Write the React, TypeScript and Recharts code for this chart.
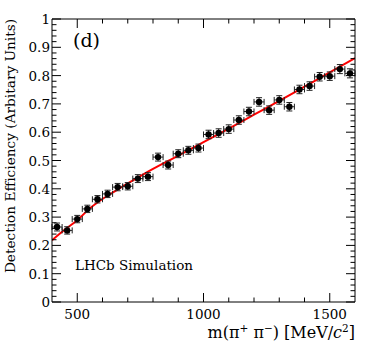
import React from 'react';
import { ComposedChart, Scatter, Line, XAxis, YAxis, ErrorBar } from 'recharts';

const masses = [420, 460, 500, 540, 580, 620, 660, 700, 740, 780, 820, 860, 900, 940, 980, 1020, 1060, 1100, 1140, 1180, 1220, 1260, 1300, 1340, 1380, 1420, 1460, 1500, 1540, 1580];
const efficiencies = [0.265, 0.253, 0.293, 0.329, 0.363, 0.382, 0.406, 0.409, 0.436, 0.443, 0.512, 0.484, 0.524, 0.536, 0.544, 0.592, 0.597, 0.611, 0.643, 0.673, 0.707, 0.678, 0.714, 0.69, 0.751, 0.763, 0.796, 0.798, 0.823, 0.808];
const massHalfWidth = 20;
const effErrors = [0.014, 0.013, 0.013, 0.013, 0.013, 0.013, 0.013, 0.013, 0.014, 0.014, 0.014, 0.014, 0.014, 0.014, 0.014, 0.015, 0.015, 0.015, 0.015, 0.015, 0.015, 0.015, 0.015, 0.015, 0.015, 0.015, 0.015, 0.015, 0.016, 0.016];

const fitMasses = [400, 450, 500, 550, 600, 650, 700, 750, 800, 900, 1000, 1100, 1200, 1300, 1400, 1500, 1600];
const fitValues = [0.218, 0.255, 0.289, 0.331, 0.364, 0.392, 0.419, 0.445, 0.47, 0.517, 0.565, 0.613, 0.662, 0.711, 0.761, 0.811, 0.862];

const xTicks = [500, 600, 700, 800, 900, 1000, 1100, 1200, 1300, 1400, 1500];
const yTicks = Array.from({ length: 51 }, (_, i) => Math.round(i * 2) / 100);

const points = masses.map((m, i) => ({ m, eff: efficiencies[i], xErr: massHalfWidth, yErr: effErrors[i] }));
const fit = fitMasses.map((m, i) => ({ m, fit: fitValues[i] }));

const FONT = "'DejaVu Serif', serif";
const txt = { fontFamily: FONT };
const isMajorX = (v: number) => v % 500 === 0;
const isMajorY = (v: number) => Math.round(v * 100) % 10 === 0;
const fmtY = (v: number) => {
  const r = Math.round(v * 10) / 10;
  return r === 0 ? '0' : r === 1 ? '1' : r.toFixed(1);
};

const BottomTick = (props: any) => {
  const { x, y, payload } = props;
  const major = isMajorX(payload.value);
  return (
    <g>
      <line x1={x} x2={x} y1={y} y2={y - (major ? 9 : 4.5)} stroke="#000" strokeWidth={1} />
      {major && (
        <text x={x} y={y + 17} textAnchor="middle" fontSize={13.5} style={txt} fill="#000">
          {payload.value}
        </text>
      )}
    </g>
  );
};

const TopTick = (props: any) => {
  const { x, y, payload } = props;
  const major = isMajorX(payload.value);
  return <line x1={x} x2={x} y1={y} y2={y + (major ? 9 : 4.5)} stroke="#000" strokeWidth={1} />;
};

const LeftTick = (props: any) => {
  const { x, y, payload } = props;
  const major = isMajorY(payload.value);
  return (
    <g>
      <line x1={x} x2={x + (major ? 9 : 4.5)} y1={y} y2={y} stroke="#000" strokeWidth={1} />
      {major && (
        <text x={x - 2} y={y + 5} textAnchor="end" fontSize={13.5} style={txt} fill="#000">
          {fmtY(payload.value)}
        </text>
      )}
    </g>
  );
};

const RightTick = (props: any) => {
  const { x, y, payload } = props;
  const major = isMajorY(payload.value);
  return <line x1={x} x2={x - (major ? 9 : 4.5)} y1={y} y2={y} stroke="#000" strokeWidth={1} />;
};

const Dot = (props: any) => {
  const { cx, cy } = props;
  return <circle cx={cx} cy={cy} r={3.2} fill="#000" />;
};

export default function App() {
  return (
    <div style={{ position: 'absolute', left: 0, top: 0, width: 374, height: 359, background: '#fff' }}>
      <ComposedChart width={374} height={359} margin={{ top: 18, right: 18, left: 0, bottom: 0 }}>
        <XAxis
          dataKey="m"
          type="number"
          domain={[400, 1600]}
          allowDataOverflow
          ticks={xTicks}
          interval={0}
          height={57}
          tickSize={0}
          tickMargin={0}
          tickLine={false}
          axisLine={{ stroke: '#000', strokeWidth: 1 }}
          tick={<BottomTick />}
        />
        <XAxis
          xAxisId="top"
          dataKey="m"
          type="number"
          orientation="top"
          domain={[400, 1600]}
          allowDataOverflow
          ticks={xTicks}
          interval={0}
          height={1}
          tickSize={0}
          tickMargin={0}
          tickLine={false}
          axisLine={{ stroke: '#000', strokeWidth: 1 }}
          tick={<TopTick />}
        />
        <YAxis
          type="number"
          domain={[0, 1]}
          allowDataOverflow
          ticks={yTicks}
          interval={0}
          width={52}
          tickSize={0}
          tickMargin={0}
          tickLine={false}
          axisLine={{ stroke: '#000', strokeWidth: 1 }}
          tick={<LeftTick />}
        />
        <YAxis
          yAxisId="right"
          type="number"
          orientation="right"
          domain={[0, 1]}
          allowDataOverflow
          ticks={yTicks}
          interval={0}
          width={1}
          tickSize={0}
          tickMargin={0}
          tickLine={false}
          axisLine={{ stroke: '#000', strokeWidth: 1 }}
          tick={<RightTick />}
        />
        <Line
          xAxisId="top"
          yAxisId="right"
          data={fit}
          dataKey="fit"
          stroke="none"
          strokeWidth={0}
          dot={false}
          activeDot={false}
          legendType="none"
          isAnimationActive={false}
        />
        <Line
          data={fit}
          dataKey="fit"
          type="monotone"
          stroke="#ff0000"
          strokeWidth={2}
          dot={false}
          activeDot={false}
          isAnimationActive={false}
        />
        <Scatter data={points} dataKey="eff" shape={<Dot />} isAnimationActive={false}>
          <ErrorBar dataKey="xErr" direction="x" width={3} stroke="#222" strokeWidth={1} />
          <ErrorBar dataKey="yErr" direction="y" width={3} stroke="#222" strokeWidth={1} />
        </Scatter>
        <text x={73} y={47} fontSize={19} style={txt} fill="#000">(d)</text>
        <text x={75} y={270} fontSize={13.5} style={txt} fill="#000">LHCb Simulation</text>
        <text
          x={15}
          y={146}
          transform="rotate(-90 15 146)"
          textAnchor="middle"
          fontSize={13.7}
          style={txt}
          fill="#000"
        >
          Detection Efficiency (Arbitary Units)
        </text>
        <text x={355} y={338} textAnchor="end" fontSize={16} style={txt} fill="#000">
          m(π<tspan fontSize={10.5} dy={-6}>+</tspan>
          <tspan dy={6}> π</tspan>
          <tspan fontSize={10.5} dy={-6}>−</tspan>
          <tspan dy={6}>) [MeV/</tspan>
          <tspan fontStyle="italic">c</tspan>
          <tspan fontSize={10.5} dy={-6}>2</tspan>
          <tspan dy={6}>]</tspan>
        </text>
      </ComposedChart>
    </div>
  );
}
